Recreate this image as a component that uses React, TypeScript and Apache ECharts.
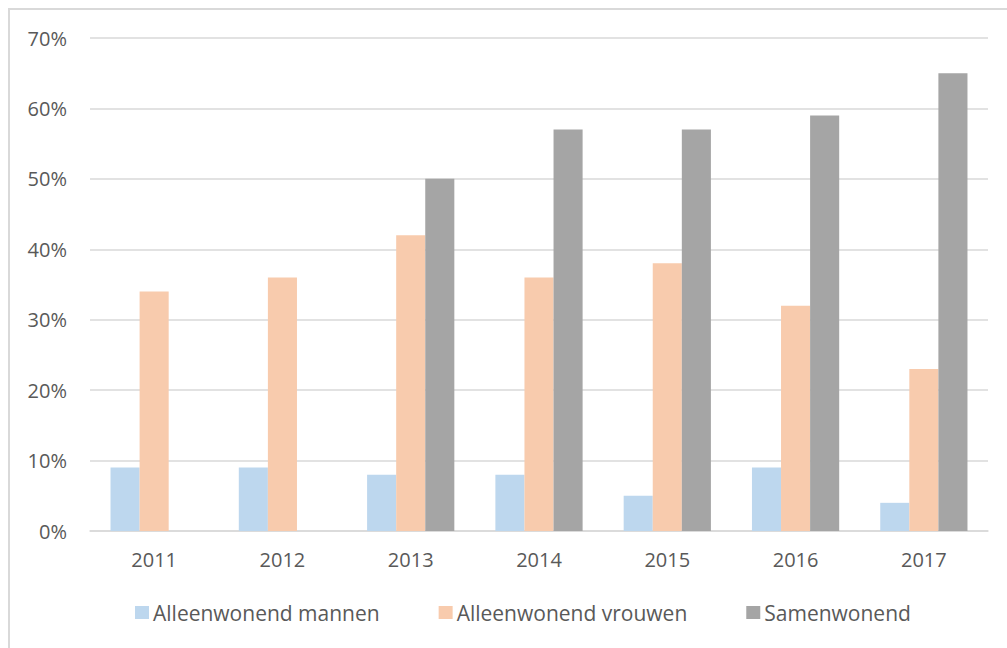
import React, { useEffect, useRef } from "react";
import * as echarts from "echarts";

const years = ["2011", "2012", "2013", "2014", "2015", "2016", "2017"];
const mannen = [9, 9, 8, 8, 5, 9, 4];
const vrouwen = [34, 36, 42, 36, 38, 32, 23];
const samen = [null, null, 50, 57, 57, 59, 65];
const seriesNames = ["Alleenwonend mannen", "Alleenwonend vrouwen", "Samenwonend"];
const colors = ["#BDD7EE", "#F8CBAD", "#A5A5A5"];

export default function App() {
  const ref = useRef<HTMLDivElement>(null);
  useEffect(() => {
    if (!ref.current) return;
    const chart = echarts.init(ref.current, null, { renderer: "svg" });
    const font = "'Open Sans', 'Noto Sans', sans-serif";
    chart.setOption({
      animation: false,
      textStyle: { fontFamily: font },
      grid: { left: 80, right: 19, top: 28, bottom: 117, containLabel: false },
      legend: {
        data: seriesNames,
        left: 120,
        top: 587,
        itemWidth: 14,
        itemHeight: 13,
        itemGap: 59,
        icon: "rect",
        textStyle: { color: "#595959", fontSize: 21, fontFamily: font, padding: [0, 0, 0, -1] },
      },
      xAxis: {
        type: "category",
        data: years,
        axisLine: { show: true, lineStyle: { color: "#D9D9D9", width: 1.5 } },
        axisTick: { show: false },
        axisLabel: { color: "#595959", fontSize: 20, margin: 18, fontFamily: font },
      },
      yAxis: {
        type: "value",
        min: 0,
        max: 70,
        interval: 10,
        axisLine: { show: false },
        axisTick: { show: false },
        splitLine: { lineStyle: { color: "#D9D9D9", width: 1.5 } },
        axisLabel: { color: "#595959", fontSize: 20, margin: 23, formatter: "{value}%", fontFamily: font },
      },
      series: seriesNames.map((name, i) => ({
        name,
        type: "bar",
        data: [mannen, vrouwen, samen][i],
        itemStyle: { color: colors[i] },
        barGap: "0%",
        barCategoryGap: "32%",
      })),
    });
    return () => chart.dispose();
  }, []);
  return (
    <div
      style={{
        position: "absolute",
        left: 8,
        top: 8,
        width: 999,
        height: 640,
        borderLeft: "2px solid #D9D9D9",
        borderTop: "2px solid #D9D9D9",
        boxSizing: "border-box",
        background: "#fff",
      }}
    >
      <div ref={ref} style={{ width: 997, height: 638 }} />
    </div>
  );
}
